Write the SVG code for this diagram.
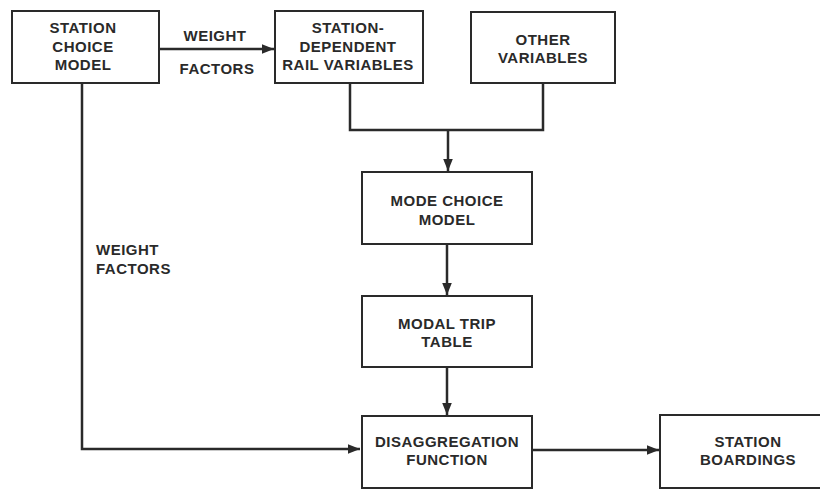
<svg xmlns="http://www.w3.org/2000/svg" width="820" height="489" viewBox="0 0 820 489">
<defs>
<marker id="ah" viewBox="0 0 10 10" refX="10" refY="5" markerWidth="5" markerHeight="5" orient="auto" markerUnits="strokeWidth">
<path d="M0,1 L10,5 L0,9 z" fill="#2a2a2a"/>
</marker>
<style>
.box{fill:#fff;stroke:#2a2a2a;stroke-width:2}
.t{font-family:"Liberation Sans",Arial,sans-serif;font-weight:bold;font-size:15px;fill:#2a2a2a;text-anchor:middle;letter-spacing:0.5px}
.c{fill:none;stroke:#2a2a2a;stroke-width:2.5}
</style>
</defs>
<rect width="820" height="489" fill="#fff"/>
<g id="connectors">
<line class="c" x1="159" y1="49" x2="274" y2="49" marker-end="url(#ah)"/>
<polyline class="c" points="350,83 350,130 543,130 543,83"/>
<line class="c" x1="448" y1="130" x2="448" y2="171" marker-end="url(#ah)"/>
<line class="c" x1="447" y1="244" x2="447" y2="295" marker-end="url(#ah)"/>
<line class="c" x1="447" y1="367" x2="447" y2="415" marker-end="url(#ah)"/>
<polyline class="c" points="82,83 82,449 360,449" marker-end="url(#ah)"/>
<line class="c" x1="532" y1="450" x2="659" y2="450" marker-end="url(#ah)"/>
<text class="t" x="215" y="41">WEIGHT</text>
<text class="t" x="217" y="74">FACTORS</text>
<text class="t" x="96" y="255" style="text-anchor:start">WEIGHT</text>
<text class="t" x="96" y="274" style="text-anchor:start">FACTORS</text>
</g>
<g id="station-choice-model">
<rect class="box" x="12" y="11" width="147" height="72"/>
<text class="t" x="83" y="33">STATION</text>
<text class="t" x="83" y="52">CHOICE</text>
<text class="t" x="83" y="70">MODEL</text>
</g>
<g id="station-dependent-rail-variables">
<rect class="box" x="275" y="11" width="148" height="72"/>
<text class="t" x="348" y="33">STATION-</text>
<text class="t" x="348" y="52">DEPENDENT</text>
<text class="t" x="348" y="70">RAIL VARIABLES</text>
</g>
<g id="other-variables">
<rect class="box" x="471" y="12" width="144" height="71"/>
<text class="t" x="543" y="45">OTHER</text>
<text class="t" x="543" y="63">VARIABLES</text>
</g>
<g id="mode-choice-model">
<rect class="box" x="362" y="172" width="170" height="72"/>
<text class="t" x="447" y="206">MODE CHOICE</text>
<text class="t" x="447" y="225">MODEL</text>
</g>
<g id="modal-trip-table">
<rect class="box" x="362" y="296" width="170" height="71"/>
<text class="t" x="447" y="329">MODAL TRIP</text>
<text class="t" x="447" y="347">TABLE</text>
</g>
<g id="disaggregation-function">
<rect class="box" x="362" y="416" width="170" height="72"/>
<text class="t" x="447" y="447">DISAGGREGATION</text>
<text class="t" x="447" y="465">FUNCTION</text>
</g>
<g id="station-boardings">
<rect class="box" x="660" y="415" width="165" height="73"/>
<text class="t" x="748" y="447">STATION</text>
<text class="t" x="748" y="465">BOARDINGS</text>
</g>
</svg>
